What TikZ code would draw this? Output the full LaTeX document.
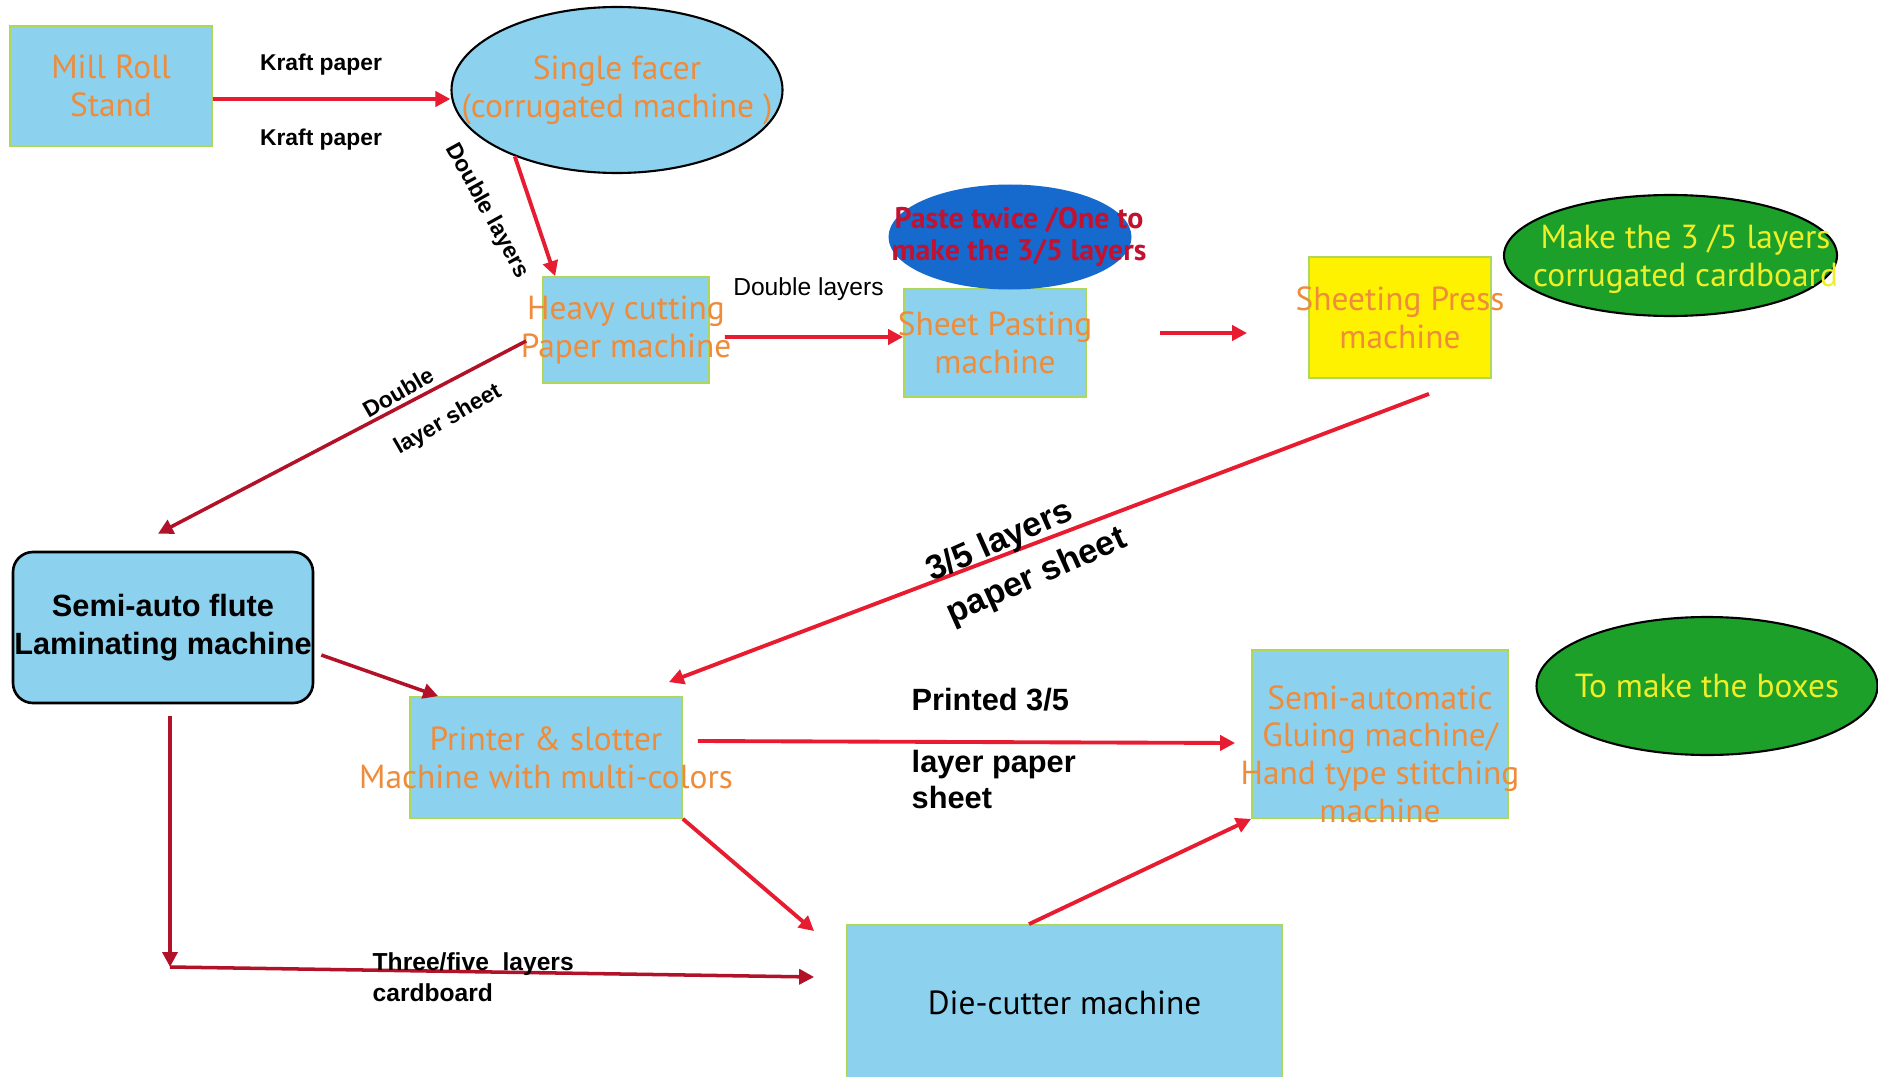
\documentclass[tikz,border=0pt]{standalone}
\usepackage{fontspec}
\setmainfont{Liberation Sans}
\newfontfamily\comicfont{PT Sans}
\usetikzlibrary{shapes}
\usetikzlibrary{positioning}
\usetikzlibrary{arrows.meta}
\definecolor{boxblue}{RGB}{140,210,238}
\definecolor{boxline}{RGB}{175,215,90}
\definecolor{pressyellow}{RGB}{255,242,0}
\definecolor{pasteblue}{RGB}{22,105,205}
\definecolor{cardgreen}{RGB}{28,160,42}
\definecolor{txtorange}{RGB}{238,140,60}
\definecolor{txtyellow}{RGB}{240,238,40}
\definecolor{txtcrimson}{RGB}{195,18,48}
\definecolor{arrowred}{RGB}{232,28,48}
\definecolor{arrowdark}{RGB}{178,18,40}
\tikzset{
    mybox/.style = {rectangle, draw=boxline, line width=1pt, fill=boxblue},
    myboxy/.style = {rectangle, draw=boxline, line width=1pt, fill=pressyellow},
    myboxr/.style = {rectangle, rounded corners=0.4cm, draw=black, line width=1.5pt, fill=boxblue},
    myellb/.style = {ellipse, draw=black, line width=1.2pt, fill=boxblue},
    myelld/.style = {ellipse, fill=pasteblue},
    myellg/.style = {ellipse, draw=black, line width=1.2pt, fill=cardgreen},
    txto/.style = {align=center, font=\comicfont\fontsize{19}{21.5}\selectfont, text=txtorange},
    txty/.style = {align=center, font=\comicfont\fontsize{19}{21.5}\selectfont, text=txtyellow},
    txtk/.style = {align=center, font=\comicfont\fontsize{19}{21.5}\selectfont, text=black},
    txtr/.style = {align=center, font=\comicfont\bfseries\fontsize{17}{18}\selectfont, text=txtcrimson},
    txtb/.style = {align=center, font=\bfseries\fontsize{17.5}{21.6}\selectfont, text=black},
    lblb/.style = {inner sep=0pt, font=\bfseries\fontsize{13}{15}\selectfont},
    lblm/.style = {inner sep=0pt, font=\fontsize{14}{16}\selectfont},
    lblbig/.style = {inner sep=0pt, font=\bfseries\fontsize{19.5}{23}\selectfont},
    lblp/.style = {inner sep=0pt, align=left, font=\bfseries\fontsize{17.5}{21}\selectfont},
    lblt/.style = {inner sep=0pt, align=left, font=\bfseries\fontsize{14}{17.6}\selectfont},
    edger/.style = {-{Triangle[length=0.3cm,width=0.3cm]}, line width=2.2pt, arrowred},
    edged/.style = {-{Triangle[length=0.3cm,width=0.3cm]}, line width=2pt, arrowdark}
}

\begin{document}
\begin{tikzpicture}[thick]
  \fill[white] (0,0) rectangle (37.56,-21.54);
  \useasboundingbox (0,0) rectangle (37.56,-21.54);

  % machines
  \node[mybox, minimum width=4.04cm, minimum height=2.40cm, label={[txto]center:{Mill Roll\\Stand}}] (mill) at (2.22,-1.72) {};
  \node[myellb, minimum width=6.62cm, minimum height=3.32cm, label={[txto]center:{Single facer\\(corrugated machine )}}] (facer) at (12.34,-1.80) {};
  \node[mybox, minimum width=3.32cm, minimum height=2.12cm, label={[txto]center:{Heavy cutting\\Paper machine}}] (heavy) at (12.52,-6.60) {};
  \node[mybox, minimum width=3.64cm, minimum height=2.16cm, label={[txto]center:{Sheet Pasting\\machine}}] (paste) at (19.90,-6.86) {};
  \node[myelld, minimum width=4.86cm, minimum height=2.10cm, label={[txtr, xshift=0.18cm]center:{Paste twice /One to\\make the 3/5 layers}}] (twice) at (20.20,-4.74) {};
  \node[myboxy, minimum width=3.64cm, minimum height=2.42cm, label={[txto]center:{Sheeting Press\\machine}}] (press) at (28.00,-6.35) {};
  \node[myellg, minimum width=6.66cm, minimum height=2.42cm, label={[txty, xshift=0.3cm, yshift=-0.08cm]center:{Make the 3 /5 layers\\corrugated cardboard}}] (make) at (33.41,-5.11) {};
  \node[myboxr, minimum width=6.00cm, minimum height=3.02cm, label={[txtb]center:{Semi-auto flute\\Laminating machine}}] (lam) at (3.26,-12.55) {};
  \node[mybox, minimum width=5.44cm, minimum height=2.42cm, label={[txto]center:{Printer \& slotter\\Machine with multi-colors}}] (printer) at (10.92,-15.15) {};
  \node[mybox, minimum width=5.12cm, minimum height=3.36cm, label={[txto, yshift=-0.4cm]center:{Semi-automatic\\Gluing machine/\\Hand type stitching\\machine}}] (glue) at (27.60,-14.68) {};
  \node[myellg, minimum width=6.82cm, minimum height=2.76cm, label={[txty]center:{To make the boxes}}] (boxes) at (34.14,-13.72) {};
  \node[mybox, minimum width=8.70cm, minimum height=3.12cm, label={[txtk]center:{Die-cutter machine}}] (die) at (21.29,-20.06) {};

  % flow
  \draw[edger] ([yshift=-0.26cm]mill.east) -- ([yshift=-0.18cm]facer.west);
  \draw[edger] (facer.-147) -- ([xshift=0.26cm]heavy.north west);
  \draw[edger] ([xshift=0.3cm,yshift=-0.14cm]heavy.east) -- ([yshift=0.12cm]paste.west);
  \draw[edger] ([xshift=1.46cm,yshift=0.2cm]paste.east) -- ([xshift=-1.22cm,yshift=-0.31cm]press.west);
  \draw[edger] ([xshift=0.58cm,yshift=-0.3cm]press.south) -- ([xshift=-0.28cm,yshift=0.28cm]printer.north east);
  \draw[edged] ([xshift=-0.32cm,yshift=-0.22cm]heavy.west) -- ([xshift=-0.1cm,yshift=0.34cm]lam.north);
  \draw[edged] ([xshift=0.14cm,yshift=-0.55cm]lam.east) -- ([xshift=0.58cm]printer.north west);
  \coordinate (corner) at (3.40,-19.34);
  \draw[edged] ([xshift=0.14cm,yshift=-0.24cm]lam.south) -- (corner);
  \draw[edged] (corner) -- ([xshift=-0.64cm,yshift=0.52cm]die.west);
  \draw[edger] ([xshift=0.3cm,yshift=0.33cm]printer.east) -- ([xshift=-0.32cm,yshift=-0.18cm]glue.west);
  \draw[edger] (printer.south east) -- ([xshift=-0.64cm,yshift=-0.14cm]die.north west);
  \draw[edger] ([xshift=-0.71cm]die.north) -- (glue.south west);

  % texts on the flow
  \node[lblb] (kraft1) at (6.42,-1.30) {Kraft paper};
  \node[lblb] (kraft2) at (6.42,-2.80) {Kraft paper};
  \node[lblb, rotate=-61] (dlay1) at (9.74,-4.22) {Double layers};
  \node[lblm] (dlay2) at (16.17,-5.78) {Double layers};
  \node[lblb, rotate=30] (dsheet1) at (7.96,-7.84) {Double};
  \node[lblb, rotate=30] (dsheet2) at (8.96,-8.40) {layer sheet};
  \node[lblbig, rotate=24] (lay1) at (20.00,-10.84) {3/5 layers};
  \node[lblbig, rotate=24] (lay2) at (20.74,-11.54) {paper sheet};
  \node[lblp, anchor=west] (printed1) at (18.22,-14.00) {Printed 3/5};
  \node[lblp, anchor=west] (printed2) at (18.22,-15.59) {layer paper\\sheet};
  \node[lblt, anchor=west] (three) at (7.44,-19.55) {Three/five~~layers\\cardboard};
\end{tikzpicture}
\end{document}
